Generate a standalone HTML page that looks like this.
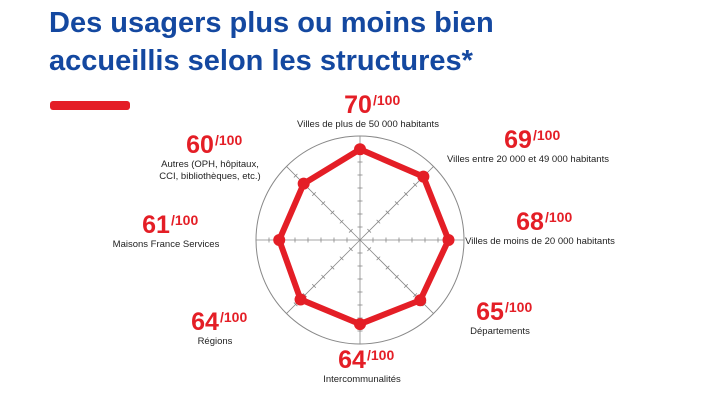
<!DOCTYPE html>
<html><head><meta charset="utf-8"><style>
body{margin:0;background:#fff;width:715px;height:401px;overflow:hidden;font-family:"Liberation Sans",sans-serif}
</style></head><body>
<svg width="715" height="401" viewBox="0 0 715 401">
<text x="49" y="32" font-size="29" font-weight="bold" fill="#1448a0">Des usagers plus ou moins bien</text>
<text x="49" y="70" font-size="29" font-weight="bold" fill="#1448a0">accueillis selon les structures*</text>
<rect x="50" y="101" width="80" height="9" rx="3" fill="#e41e26"/>
<g id="chart"></g>
</svg>
<script>
const categories=["Villes de plus de 50 000 habitants","Villes entre 20 000 et 49 000 habitants","Villes de moins de 20 000 habitants","Départements","Intercommunalités","Régions","Maisons France Services","Autres (OPH, hôpitaux, CCI, bibliothèques, etc.)"];
const scores=[70,69,68,65,64,64,61,60];
const maxLabel="/100";
const NS="http://www.w3.org/2000/svg";
const g=document.getElementById('chart');
const cx=360,cy=240,R=104,dMin=-12,dMax=82;
function rScale(v){return (v-dMin)/(dMax-dMin)*R;}
function ang(i){return -Math.PI/2+i*2*Math.PI/categories.length;}
function pt(i,v){const r=rScale(v),a=ang(i);return [cx+r*Math.cos(a),cy+r*Math.sin(a)];}
function mk(t,attrs){const e=document.createElementNS(NS,t);for(const k in attrs)e.setAttribute(k,attrs[k]);g.appendChild(e);return e;}
const circ=mk('circle',{cx:cx,cy:cy,r:R,fill:'none',stroke:'#888','stroke-width':1});


categories.forEach((c,i)=>{
 const a=ang(i);
 const ln=mk('line',{x1:cx,y1:cy,x2:cx+R*Math.cos(a),y2:cy+R*Math.sin(a),stroke:'#888','stroke-width':0.8});
 
 
 for(let k=1;k<8;k++){
  const r=k*13,px=cx+r*Math.cos(a),py=cy+r*Math.sin(a),nx=-Math.sin(a)*2.5,ny=Math.cos(a)*2.5;
  const tk=mk('line',{x1:px-nx,y1:py-ny,x2:px+nx,y2:py+ny,stroke:'#888','stroke-width':0.8});
  
  
 }
});
const pts=scores.map((v,i)=>pt(i,v));
const poly=mk('polygon',{points:pts.map(p=>p.join(',')).join(' '),fill:'none',stroke:'#e41e26','stroke-width':6,'stroke-linejoin':'round'});


pts.forEach(p=>{
 const d=mk('circle',{cx:p[0],cy:p[1],r:6,fill:'#e41e26'});
 
 
});
const lx=[368,528,540,500,362,215,166,210];
const ly=[113,148,230,320,368,330,233,153];
const lines=[["Villes de plus de 50 000 habitants"],["Villes entre 20 000 et 49 000 habitants"],["Villes de moins de 20 000 habitants"],["Départements"],["Intercommunalités"],["Régions"],["Maisons France Services"],["Autres (OPH, hôpitaux,","CCI, bibliothèques, etc.)"]];
categories.forEach((c,i)=>{
 const t=mk('text',{x:lx[i]-10,y:ly[i],'text-anchor':'middle','font-size':25,'font-weight':'bold',fill:'#e41e26'});
 t.textContent=scores[i];
 
 
 const s=mk('text',{x:lx[i]+5,y:ly[i]-8,'font-size':14,'font-weight':'bold',fill:'#e41e26'});
 s.textContent=maxLabel;
 
 
 lines[i].forEach((l,j)=>{
  const tl=mk('text',{x:lx[i],y:ly[i]+14+j*12,'text-anchor':'middle','font-size':9.5,fill:'#222'});
  tl.textContent=l;
  
  
 });
});
</script>
</body></html>
